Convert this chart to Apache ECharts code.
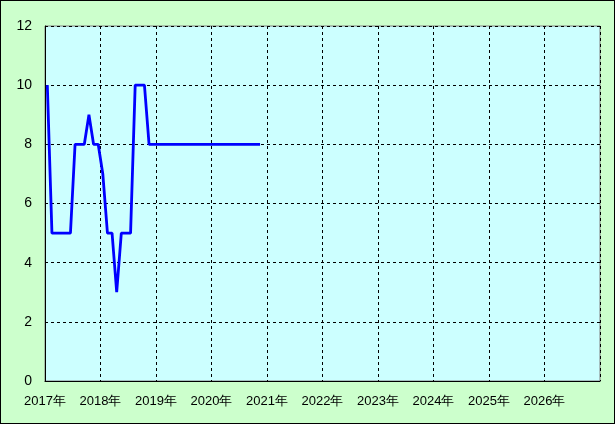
<!DOCTYPE html>
<html>
<head>
<meta charset="utf-8">
<script src="https://cdn.jsdelivr.net/npm/echarts@6/dist/echarts.min.js"></script>
<style>
  html, body { margin: 0; padding: 0; background: #ffffff; }
  #chart {
    width: 615px;
    height: 424px;
    box-sizing: border-box;
    border: 1px solid #000000;
    background: #ccffcc;
  }
</style>
</head>
<body>
<div id="chart"></div>
<script>
// tick labels on the x axis (one per year)
const yearLabels = ['2017年', '2018年', '2019年', '2020年', '2021年', '2022年', '2023年', '2024年', '2025年', '2026年']

// monthly values, Jan 2017 .. Nov 2020
const values2017 = [10, 5, 5, 5, 5, 5, 8, 8, 8, 9, 8, 8]
const values2018 = [7, 5, 5, 3, 5, 5, 5, 10, 10, 10, 8, 8]
const values2019 = [8, 8, 8, 8, 8, 8, 8, 8, 8, 8, 8, 8]
const values2020 = [8, 8, 8, 8, 8, 8, 8, 8, 8, 8, 8]

const yTicks = [0, 2, 4, 6, 8, 10, 12]

const chart = echarts.init(document.getElementById('chart'), null, { renderer: 'canvas' })

// month index since Jan 2017, plotted mid-month
const allValues = [].concat(values2017, values2018, values2019, values2020)
const seriesData = allValues.map((v, i) => [i + 0.5, v])

const fontFamily = '"Liberation Sans", Arial, sans-serif'

const option = {
  animation: false,
  grid: {
    left: 44,
    right: 14,
    top: 25,
    bottom: 42,
    show: true,
    backgroundColor: '#ccffff',
    borderColor: '#808080',
    borderWidth: 1,
  },
  xAxis: {
    type: 'value',
    min: 0,
    max: yearLabels.length * 12,
    interval: 12,
    axisLine: { show: true, onZero: false, lineStyle: { color: '#000000', width: 1 } },
    axisTick: { show: false },
    axisLabel: {
      color: '#000000',
      fontSize: 13,
      fontFamily,
      margin: 14,
      showMaxLabel: false,
      formatter: (value) => yearLabels[Math.round(value / 12)] || '',
    },
    splitLine: {
      show: true,
      lineStyle: { color: '#000000', type: [3, 3], width: 1 },
    },
  },
  yAxis: {
    type: 'value',
    min: yTicks[0],
    max: yTicks[yTicks.length - 1],
    interval: 2,
    axisLine: { show: true, lineStyle: { color: '#000000', width: 1 } },
    axisTick: { show: false },
    axisLabel: {
      color: '#000000',
      fontSize: 14,
      fontFamily,
      margin: 13,
    },
    splitLine: {
      show: true,
      lineStyle: { color: '#000000', type: [3, 3], width: 1 },
    },
  },
  series: [
    {
      type: 'line',
      data: seriesData,
      showSymbol: false,
      symbol: 'none',
      lineStyle: { color: '#0000ff', width: 2.8 },
      z: 5,
    },
  ],
}

chart.setOption(option)
</script>
</body>
</html>
